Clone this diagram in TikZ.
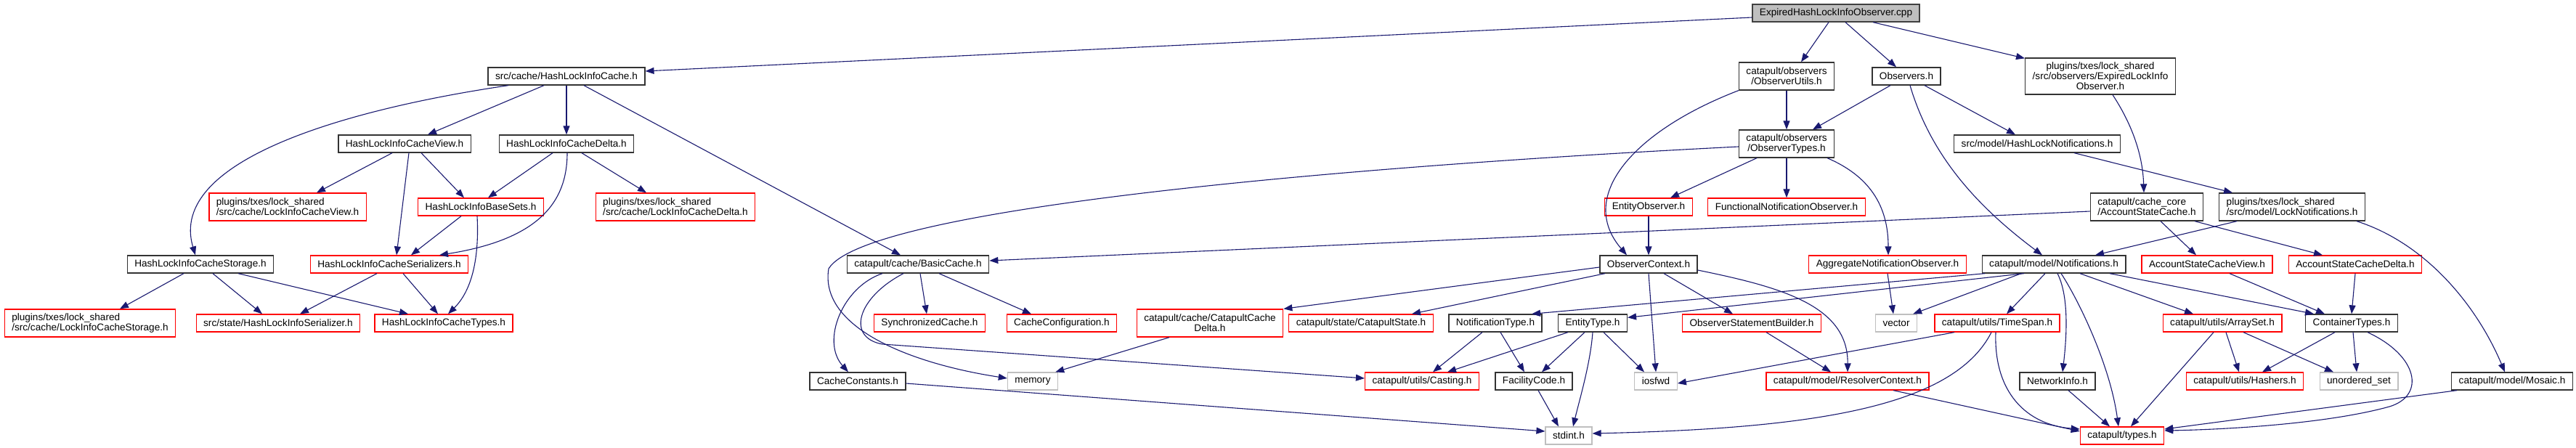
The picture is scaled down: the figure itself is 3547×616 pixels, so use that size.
\documentclass[tikz,border=0pt]{standalone}
\usepackage{fontspec}
\setmainfont{Liberation Sans}
\usetikzlibrary{arrows.meta}

\definecolor{edgeblue}{HTML}{191970}
\definecolor{sysgrey}{HTML}{BFBFBF}

\begin{document}
\begin{tikzpicture}[
		x=1pt, y=-1pt,
		hdr/.style={draw=black!80, fill=white, line width=1.3pt, inner xsep=10pt, inner ysep=3pt, minimum height=24pt, font=\fontsize{13.6}{14}\selectfont},
		hdr cut/.style={hdr, draw=red},
		hdr sys/.style={hdr, draw=sysgrey},
		hdr root/.style={hdr, fill=sysgrey, draw=black!75},
		two lines/.style={minimum height=38pt},
		include/.style={draw=edgeblue, line width=1.1pt, -{Triangle[length=12pt, width=9pt]}}
		]
		
		% Page
		\fill[white] (0,0) rectangle (3547,616);
		\useasboundingbox (0,0) rectangle (3547,616);
		
		% The file itself
		\node[hdr root] (root) at (2528,18) {ExpiredHashLockInfoObserver.cpp};
		
		% Row 1
		\node[hdr] (hlic) at (780,105) {src/cache/HashLockInfoCache.h};
		\node[hdr, two lines, align=center] (outils) at (2460,105) {catapult/observers\\/ObserverUtils.h};
		\node[hdr] (observers) at (2625,105) {Observers.h};
		\node[hdr, minimum height=50pt, align=center] (expplug) at (2892,105) {plugins/txes/lock\_shared\\/src/observers/ExpiredLockInfo\\Observer.h};
		
		% Row 2
		\node[hdr] (hlicview) at (557,198) {HashLockInfoCacheView.h};
		\node[hdr] (hlicdelta) at (780,198) {HashLockInfoCacheDelta.h};
		\node[hdr, two lines, align=center] (otypes) at (2460,198) {catapult/observers\\/ObserverTypes.h};
		\node[hdr] (hlnotif) at (2805,198) {src/model/HashLockNotifications.h};
		
		% Row 3
		\node[hdr cut, two lines, align=left] (plugview) at (396,285) {plugins/txes/lock\_shared\\/src/cache/LockInfoCacheView.h};
		\node[hdr cut] (basesets) at (662,285) {HashLockInfoBaseSets.h};
		\node[hdr cut, two lines, align=left] (plugdelta) at (930,285) {plugins/txes/lock\_shared\\/src/cache/LockInfoCacheDelta.h};
		\node[hdr cut] (entobs) at (2270,285) {EntityObserver.h};
		\node[hdr cut] (funcobs) at (2460,285) {FunctionalNotificationObserver.h};
		\node[hdr, two lines, align=left] (ascache) at (2956,285) {catapult/cache\_core\\/AccountStateCache.h};
		\node[hdr, two lines, align=left] (plugnotif) at (3156,285) {plugins/txes/lock\_shared\\/src/model/LockNotifications.h};
		
		% Row 4
		\node[hdr] (storage) at (276,364) {HashLockInfoCacheStorage.h};
		\node[hdr cut] (serializers) at (536,364) {HashLockInfoCacheSerializers.h};
		\node[hdr] (basiccache) at (1264,364) {catapult/cache/BasicCache.h};
		\node[hdr] (obsctx) at (2270,364) {ObserverContext.h};
		\node[hdr cut] (aggobs) at (2599,364) {AggregateNotificationObserver.h};
		\node[hdr] (notifs) at (2828,364) {catapult/model/Notifications.h};
		\node[hdr cut] (asview) at (3039,364) {AccountStateCacheView.h};
		\node[hdr cut] (asdelta) at (3243,364) {AccountStateCacheDelta.h};
		
		% Row 5
		\node[hdr cut, two lines, align=left] (plugstorage) at (124,445) {plugins/txes/lock\_shared\\/src/cache/LockInfoCacheStorage.h};
		\node[hdr cut] (serializer) at (383,445) {src/state/HashLockInfoSerializer.h};
		\node[hdr cut] (cachetypes) at (611,445) {HashLockInfoCacheTypes.h};
		\node[hdr cut] (synccache) at (1280,445) {SynchronizedCache.h};
		\node[hdr cut] (cacheconf) at (1462,445) {CacheConfiguration.h};
		\node[hdr cut, two lines, align=center] (ccdelta) at (1666,445) {catapult/cache/CatapultCache\\Delta.h};
		\node[hdr cut] (cstate) at (1874,445) {catapult/state/CatapultState.h};
		\node[hdr] (ntype) at (2059,445) {NotificationType.h};
		\node[hdr] (etype) at (2193,445) {EntityType.h};
		\node[hdr cut] (osb) at (2412,445) {ObserverStatementBuilder.h};
		\node[hdr sys] (vector) at (2611,445) {vector};
		\node[hdr cut] (timespan) at (2750,445) {catapult/utils/TimeSpan.h};
		\node[hdr cut] (arrayset) at (3060,445) {catapult/utils/ArraySet.h};
		\node[hdr] (ctypes) at (3238,445) {ContainerTypes.h};
		
		% Row 6
		\node[hdr] (cconst) at (1181,525) {CacheConstants.h};
		\node[hdr sys] (memory) at (1422,525) {memory};
		\node[hdr cut] (casting) at (1958,525) {catapult/utils/Casting.h};
		\node[hdr] (facility) at (2112,525) {FacilityCode.h};
		\node[hdr sys] (iosfwd) at (2280,525) {iosfwd};
		\node[hdr cut] (resolver) at (2544,525) {catapult/model/ResolverContext.h};
		\node[hdr] (netinfo) at (2833,525) {NetworkInfo.h};
		\node[hdr cut] (hashers) at (3091,525) {catapult/utils/Hashers.h};
		\node[hdr sys] (uset) at (3248,525) {unordered\_set};
		\node[hdr] (mosaic) at (3459,525) {catapult/model/Mosaic.h};
		
		% Row 7
		\node[hdr sys] (stdint) at (2160,600) {stdint.h};
		\node[hdr cut] (types) at (2922,600) {catapult/types.h};
		
		% Straight down includes
		\foreach \from/\to in {hlic/hlicdelta, outils/otypes, otypes/funcobs, entobs/obsctx, asdelta/ctypes} {
			\draw[include] (\from.south) -- (\to.north);
		}
		
		% From the .cpp
		\draw[include] ([yshift=-6]root.west) -- ([yshift=7]hlic.east);
		\draw[include] ([xshift=-10]root.south) -- ([xshift=20]outils.north);
		\draw[include] ([xshift=13]root.south) -- ([xshift=-14]observers.north);
		\draw[include] ([xshift=51]root.south) -- (expplug);
		
		% HashLockInfoCache and its parts
		\draw[include] ([xshift=-80]hlic.south) .. controls (480,150) and (230,220) .. ([xshift=-7]storage.north);
		\draw[include] ([xshift=-31]hlic.south) -- ([xshift=32]hlicview.north);
		\draw[include] ([xshift=24]hlic.south) -- ([xshift=-24]basiccache.north);
		\draw[include] ([xshift=-17]hlicview.south) -- ([xshift=40]plugview.north);
		\draw[include] ([xshift=6]hlicview.south) -- ([xshift=10]serializers.north);
		\draw[include] ([xshift=23]hlicview.south) -- ([xshift=-23]basesets.north);
		\draw[include] ([xshift=-19]hlicdelta.south) -- ([xshift=10]basesets.north);
		\draw[include] ([xshift=1]hlicdelta.south) .. controls (781,280) and (740,330) .. ([xshift=69]serializers.north);
		\draw[include] ([xshift=21]hlicdelta.south) -- ([xshift=-40]plugdelta.north);
		\draw[include] ([xshift=-27]basesets.south) -- ([xshift=30]serializers.north);
		\draw[include] ([xshift=-5]basesets.south) .. controls (660,355) and (650,400) .. ([xshift=6]cachetypes.north);
		\draw[include] ([xshift=-23]storage.south) -- ([xshift=41]plugstorage.north);
		\draw[include] ([xshift=17]storage.south) -- ([xshift=-22]serializer.north);
		\draw[include] ([xshift=52]storage.south) -- ([xshift=-49]cachetypes.north);
		\draw[include] ([xshift=-17]serializers.south) -- ([xshift=30]serializer.north);
		\draw[include] ([xshift=19]serializers.south) -- ([xshift=-8]cachetypes.north);
		
		% BasicCache
		\draw[include] ([xshift=-49]basiccache.south) .. controls (1160,395) and (1130,470) .. ([xshift=-13]cconst.north);
		\draw[include] ([xshift=3]basiccache.south) -- ([xshift=-4]synccache.north);
		\draw[include] ([xshift=29]basiccache.south) -- ([xshift=-42]cacheconf.north);
		\draw[include] ([xshift=-20]basiccache.south) .. controls (1180,410) and (1165,465) .. (1215,474) -- ([yshift=4]casting.west);
		\draw[include] ([xshift=-56]ccdelta.south) -- ([xshift=-4]memory.north east);
		\draw[include] ([yshift=-3]cconst.east) -- ([yshift=6]stdint.west);
		
		% Observer headers
		\draw[include] ([yshift=-4]otypes.west) .. controls (1800,232) and (1190,290) .. (1141,370) .. controls (1128,450) and (1250,500) .. ([yshift=4]memory.west);
		\draw[include] ([xshift=-41]otypes.south) -- ([xshift=30]entobs.north);
		\draw[include] ([xshift=56]otypes.south) .. controls (2580,245) and (2600,290) .. ([xshift=1]aggobs.north);
		\draw[include] (outils.south west) .. controls (2250,180) and (2170,270) .. ([xshift=-30]obsctx.north);
		\draw[include] ([xshift=-22]observers.south) -- ([xshift=36]otypes.north);
		\draw[include] ([xshift=25]observers.south) -- ([xshift=-30]hlnotif.north);
		\draw[include] ([xshift=5]observers.south) .. controls (2660,220) and (2730,290) .. ([xshift=-16]notifs.north);
		\draw[include] ([xshift=17]expplug.south) .. controls (2925,155) and (2950,200) .. ([xshift=-4]ascache.north);
		\draw[include] ([xshift=51]hlnotif.south) -- ([xshift=-82]plugnotif.north);
		
		% AccountStateCache and LockNotifications
		\draw[include] ([yshift=-6]ascache.west) -- ([yshift=5]basiccache.east);
		\draw[include] ([xshift=19]ascache.south) -- ([xshift=-15]asview.north);
		\draw[include] ([xshift=66]ascache.south) -- ([xshift=-45]asdelta.north);
		\draw[include] ([xshift=-76]plugnotif.south) -- ([xshift=57]notifs.north);
		\draw[include] ([xshift=89]plugnotif.south) .. controls (3340,335) and (3410,420) .. ([xshift=-10]mosaic.north);
		
		% ObserverContext
		\draw[include] ([yshift=-4]obsctx.west) -- (ccdelta.north east);
		\draw[include] ([xshift=-60]obsctx.south) -- ([xshift=70]cstate.north);
		\draw[include] (obsctx.south) -- (iosfwd.north);
		\draw[include] ([xshift=21]obsctx.south) -- ([xshift=-26]osb.north);
		\draw[include] ([yshift=-8]obsctx.east) .. controls (2450,395) and (2545,420) .. (resolver.north);
		\draw[include] ([xshift=20]osb.south) -- ([xshift=-23]resolver.north);
		\draw[include] (aggobs.south) -- ([xshift=-4]vector.north);
		
		% Notifications
		\draw[include] ([xshift=-95]notifs.south) -- ([xshift=50]ntype.north);
		\draw[include] ([xshift=-41]notifs.south) -- ([yshift=-5]etype.north east);
		\draw[include] ([xshift=-45]notifs.south) -- ([xshift=-6]vector.north east);
		\draw[include] ([xshift=-12]notifs.south) -- ([xshift=13]timespan.north);
		\draw[include] ([xshift=5]notifs.south) .. controls (2850,410) and (2845,470) .. ([xshift=7]netinfo.north);
		\draw[include] ([xshift=10]notifs.south) .. controls (2860,410) and (2905,500) .. ([xshift=-5]types.north);
		\draw[include] ([xshift=36]notifs.south) -- ([xshift=-40]arrayset.north);
		\draw[include] ([xshift=77]notifs.south) -- ([xshift=-52]ctypes.north);
		\draw[include] ([xshift=31]asview.south) -- ([xshift=-37]ctypes.north);
		
		% Lower rows
		\draw[include] ([xshift=-18]ntype.south) -- ([xshift=15]casting.north);
		\draw[include] ([xshift=7]ntype.south) -- ([xshift=-13]facility.north);
		\draw[include] ([xshift=-34]etype.south) -- ([xshift=35]casting.north);
		\draw[include] ([xshift=-11]etype.south) -- ([xshift=11]facility.north);
		\draw[include] (etype.south) .. controls (2190,500) and (2175,550) .. ([xshift=6]stdint.north);
		\draw[include] ([xshift=15]etype.south) -- ([xshift=-16]iosfwd.north);
		\draw[include] ([xshift=6]facility.south) -- ([xshift=-14]stdint.north);
		\draw[include] ([xshift=-59]timespan.south) -- ([yshift=-3]iosfwd.east);
		\draw[include] ([xshift=-8]timespan.south) .. controls (2690,560) and (2500,590) .. ([yshift=3]stdint.east);
		\draw[include] ([xshift=-2]timespan.south) .. controls (2745,540) and (2790,585) .. ([yshift=9]types.west);
		\draw[include] ([xshift=63]resolver.south) -- ([yshift=6]types.west);
		\draw[include] ([xshift=15]netinfo.south) -- ([xshift=-17]types.north);
		\draw[include] ([xshift=-12]arrayset.south) -- ([xshift=12]types.north);
		\draw[include] ([xshift=5]arrayset.south) -- ([xshift=-8]hashers.north);
		\draw[include] ([xshift=29]arrayset.south) -- ([xshift=-35]uset.north);
		\draw[include] ([xshift=-23]ctypes.south) -- ([xshift=24]hashers.north);
		\draw[include] ([xshift=2]ctypes.south) -- ([xshift=-3]uset.north);
		\draw[include] ([xshift=22]ctypes.south) .. controls (3330,490) and (3340,545) .. (3290,560) .. controls (3200,585) and (3050,592) .. ([yshift=7]types.east);
		\draw[include] ([xshift=-76]mosaic.south) -- ([yshift=9]types.east);
		
	\end{tikzpicture}
\end{document}
